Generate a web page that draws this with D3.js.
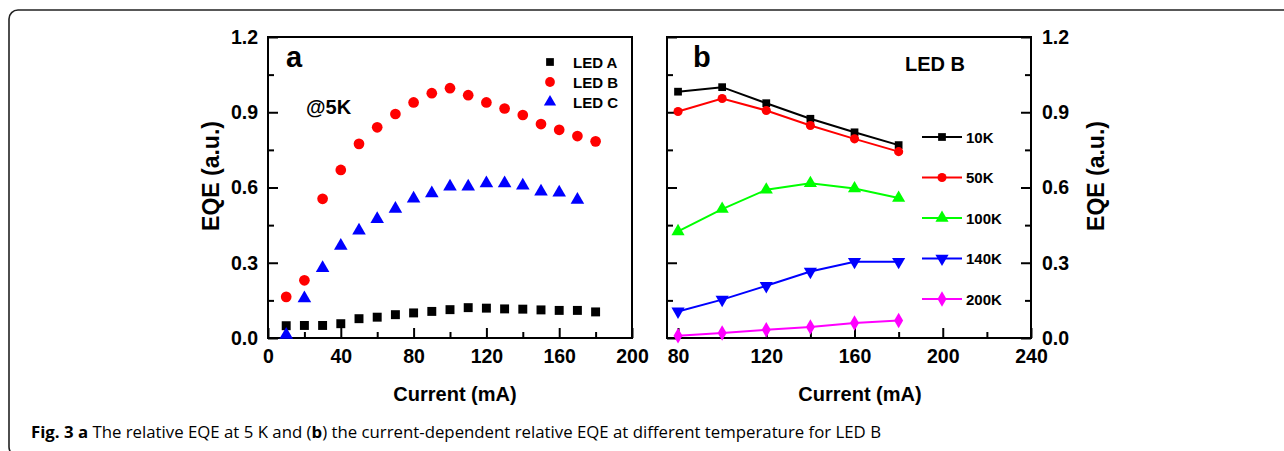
<!DOCTYPE html>
<html>
<head>
<meta charset="utf-8">
<script src="https://cdn.jsdelivr.net/npm/d3@7"></script>
<style>
  body { margin: 0; background: #fff; }
  text { font-family: "Liberation Sans", Arial, sans-serif; font-weight: bold; }
  .caption, .caption tspan { font-family: "Open Sans", sans-serif; font-weight: normal; }
  .caption .b { font-weight: bold; }
</style>
</head>
<body>
<script>
// ---- data ----
// panel a : EQE at 5K vs current
var currentA = [10, 20, 30, 40, 50, 60, 70, 80, 90, 100, 110, 120, 130, 140, 150, 160, 170, 180];
var ledA = [0.049, 0.05, 0.05, 0.057, 0.077, 0.083, 0.093, 0.1, 0.106, 0.113, 0.121, 0.119, 0.116, 0.115, 0.112, 0.11, 0.11, 0.104];
var ledB = [0.164, 0.23, 0.555, 0.67, 0.774, 0.84, 0.893, 0.939, 0.976, 0.996, 0.968, 0.939, 0.915, 0.889, 0.853, 0.83, 0.805, 0.784];
var currentC = [10, 20, 30, 40, 50, 60, 70, 80, 90, 100, 110, 120, 130, 140, 150, 160, 170];
var ledC = [0.013, 0.158, 0.279, 0.367, 0.428, 0.474, 0.515, 0.556, 0.577, 0.604, 0.604, 0.617, 0.617, 0.608, 0.584, 0.58, 0.551];
var legendA = ["LED A", "LED B", "LED C"];

// panel b : LED B at different temperatures
var currentB = [80, 100, 120, 140, 160, 180];
var temps = ["10K", "50K", "100K", "140K", "200K"];
var t10 = [0.982, 1.0, 0.936, 0.874, 0.82, 0.769];
var t50 = [0.903, 0.955, 0.907, 0.847, 0.794, 0.743];
var t100 = [0.425, 0.514, 0.591, 0.617, 0.596, 0.558];
var t140 = [0.106, 0.153, 0.208, 0.265, 0.304, 0.304];
var t200 = [0.009, 0.02, 0.033, 0.044, 0.06, 0.07];

var yTicks = [0, 0.3, 0.6, 0.9, 1.2];
var yMinor = [0.15, 0.45, 0.75, 1.05];
var xTicksA = [0, 40, 80, 120, 160, 200];
var xMinorA = [20, 60, 100, 140, 180];
var xTicksB = [80, 120, 160, 200, 240];
var xMinorB = [100, 140, 180, 220];

var W = 1284, H = 451;
var svg = d3.select("body").append("svg")
  .attr("width", W)
  .attr("height", H);

// outer frame of the figure
svg.append("rect")
  .attr("x", 9).attr("y", 10)
  .attr("width", 1300).attr("height", 446)
  .attr("rx", 9)
  .attr("fill", "none")
  .attr("stroke", "#222")
  .attr("stroke-width", 1.6);

var plotTop = 37, plotBottom = 338;
var y = d3.scaleLinear().domain([0, 1.2]).range([plotBottom, plotTop]);
var xa = d3.scaleLinear().domain([0, 200]).range([268, 632]);
var xb = d3.scaleLinear().domain([75, 240]).range([667, 1031]);

var fmt = d3.format(".1f");

function axisGroup(axis, tx, ty) {
  var g = svg.append("g")
    .attr("transform", "translate(" + tx + "," + ty + ")")
    .call(axis);
  g.select(".domain").remove();
  g.selectAll("line").attr("stroke", "#000").attr("stroke-width", 2);
  g.selectAll("text").attr("fill", "#000").style("font-size", "19.5px").attr("font-family", null);
  return g;
}

function frame(x) {
  svg.append("rect")
    .attr("x", x.range()[0]).attr("y", plotTop)
    .attr("width", x.range()[1] - x.range()[0])
    .attr("height", plotBottom - plotTop)
    .attr("fill", "none")
    .attr("stroke", "#000")
    .attr("stroke-width", 2);
}

// ---- axes panel a ----
axisGroup(d3.axisBottom(xa).tickValues(xTicksA).tickSizeInner(-10).tickSizeOuter(0).tickPadding(11), 0, plotBottom);
axisGroup(d3.axisBottom(xa).tickValues(xMinorA).tickSizeInner(-6).tickSizeOuter(0).tickFormat(""), 0, plotBottom);
axisGroup(d3.axisLeft(y).tickValues(yTicks).tickFormat(fmt).tickSizeInner(-10).tickSizeOuter(0).tickPadding(10), xa.range()[0], 0);
axisGroup(d3.axisLeft(y).tickValues(yMinor).tickSizeInner(-6).tickSizeOuter(0).tickFormat(""), xa.range()[0], 0);

// ---- axes panel b ----
axisGroup(d3.axisBottom(xb).tickValues(xTicksB).tickSizeInner(-10).tickSizeOuter(0).tickPadding(11), 0, plotBottom);
axisGroup(d3.axisBottom(xb).tickValues(xMinorB).tickSizeInner(-6).tickSizeOuter(0).tickFormat(""), 0, plotBottom);
axisGroup(d3.axisLeft(y).tickValues(yTicks).tickSizeInner(-10).tickSizeOuter(0).tickFormat(""), xb.range()[0], 0);
axisGroup(d3.axisLeft(y).tickValues(yMinor).tickSizeInner(-6).tickSizeOuter(0).tickFormat(""), xb.range()[0], 0);
axisGroup(d3.axisRight(y).tickValues(yTicks).tickFormat(fmt).tickSizeInner(-10).tickSizeOuter(0).tickPadding(11), xb.range()[1], 0);
axisGroup(d3.axisRight(y).tickValues(yMinor).tickSizeInner(-6).tickSizeOuter(0).tickFormat(""), xb.range()[1], 0);

frame(xa);
frame(xb);

// axis titles
svg.append("text").attr("x", 455).attr("y", 401).attr("text-anchor", "middle")
  .style("font-size", "20px").text("Current (mA)");
svg.append("text").attr("x", 860).attr("y", 401).attr("text-anchor", "middle")
  .style("font-size", "20px").text("Current (mA)");
svg.append("text").attr("transform", "translate(219,176) rotate(-90)").attr("text-anchor", "middle")
  .style("font-size", "23px").text("EQE (a.u.)");
svg.append("text").attr("transform", "translate(1104,176) rotate(-90)").attr("text-anchor", "middle")
  .style("font-size", "23px").text("EQE (a.u.)");

// panel letters and notes
svg.append("text").attr("x", 286).attr("y", 67).style("font-size", "29px").text("a");
svg.append("text").attr("x", 693).attr("y", 67).style("font-size", "29px").text("b");
svg.append("text").attr("x", 306).attr("y", 114).style("font-size", "20px").text("@5K");
svg.append("text").attr("x", 905).attr("y", 71).style("font-size", "20px").text("LED B");

// ---- markers ----
var sym = {
  square: d3.symbol().type(d3.symbolSquare),
  circle: d3.symbol().type(d3.symbolCircle),
  up: d3.symbol().type(d3.symbolTriangle),
  diamond: d3.symbol().type(d3.symbolDiamond)
};

function points(x, xs, ys, type, size, color, rot) {
  svg.append("g").selectAll("path")
    .data(ys)
    .enter().append("path")
    .attr("d", sym[type].size(size)())
    .attr("transform", function(d, i) {
      return "translate(" + x(xs[i]) + "," + y(d) + ")" + (rot ? " rotate(" + rot + ")" : "");
    })
    .attr("fill", color);
}

// panel a scatter
points(xa, currentA, ledA, "square", 80, "#000");
points(xa, currentA, ledB, "circle", 90, "#ff0000");
points(xa, currentC, ledC, "up", 80, "#0000ff");

// legend panel a
var legAsym = [["square", "#000", 60], ["circle", "#ff0000", 75], ["up", "#0000ff", 65]];
legendA.forEach(function(name, i) {
  var ly = 62 + i * 20;
  svg.append("path")
    .attr("d", sym[legAsym[i][0]].size(legAsym[i][2])())
    .attr("transform", "translate(550," + ly + ")")
    .attr("fill", legAsym[i][1]);
  svg.append("text").attr("x", 573).attr("y", ly + 5.5).style("font-size", "15px").text(name);
});

// panel b lines
var seriesB = [
  {name: temps[0], v: t10, color: "#000", type: "square", size: 60, rot: 0},
  {name: temps[1], v: t50, color: "#ff0000", type: "circle", size: 65, rot: 0},
  {name: temps[2], v: t100, color: "#00ff00", type: "up", size: 75, rot: 0},
  {name: temps[3], v: t140, color: "#0000ff", type: "up", size: 75, rot: 180},
  {name: temps[4], v: t200, color: "#ff00ff", type: "diamond", size: 70, rot: 0}
];

var line = d3.line()
  .x(function(d, i) { return xb(currentB[i]); })
  .y(function(d) { return y(d); });

seriesB.forEach(function(s, k) {
  svg.append("path")
    .attr("d", line(s.v))
    .attr("fill", "none")
    .attr("stroke", s.color)
    .attr("stroke-width", 2);
  points(xb, currentB, s.v, s.type, s.size, s.color, s.rot);

  // legend entry
  var ly = 137 + k * 40.5;
  svg.append("line")
    .attr("x1", 922).attr("x2", 962).attr("y1", ly).attr("y2", ly)
    .attr("stroke", s.color).attr("stroke-width", 2);
  svg.append("path")
    .attr("d", sym[s.type].size(s.size)())
    .attr("transform", "translate(942," + ly + ")" + (s.rot ? " rotate(" + s.rot + ")" : ""))
    .attr("fill", s.color);
  svg.append("text").attr("x", 966).attr("y", ly + 5.5).style("font-size", "15px").text(s.name);
});

// ---- caption ----
var cap = svg.append("text")
  .attr("class", "caption")
  .attr("x", 31).attr("y", 438)
  .attr("textLength", 850)
  .attr("lengthAdjust", "spacingAndGlyphs")
  .style("font-size", "16px");
cap.append("tspan").attr("class", "b").text("Fig. 3 a");
cap.append("tspan").text(" The relative EQE at 5 K and (");
cap.append("tspan").attr("class", "b").text("b");
cap.append("tspan").text(") the current-dependent relative EQE at different temperature for LED B");
</script>
</body>
</html>
